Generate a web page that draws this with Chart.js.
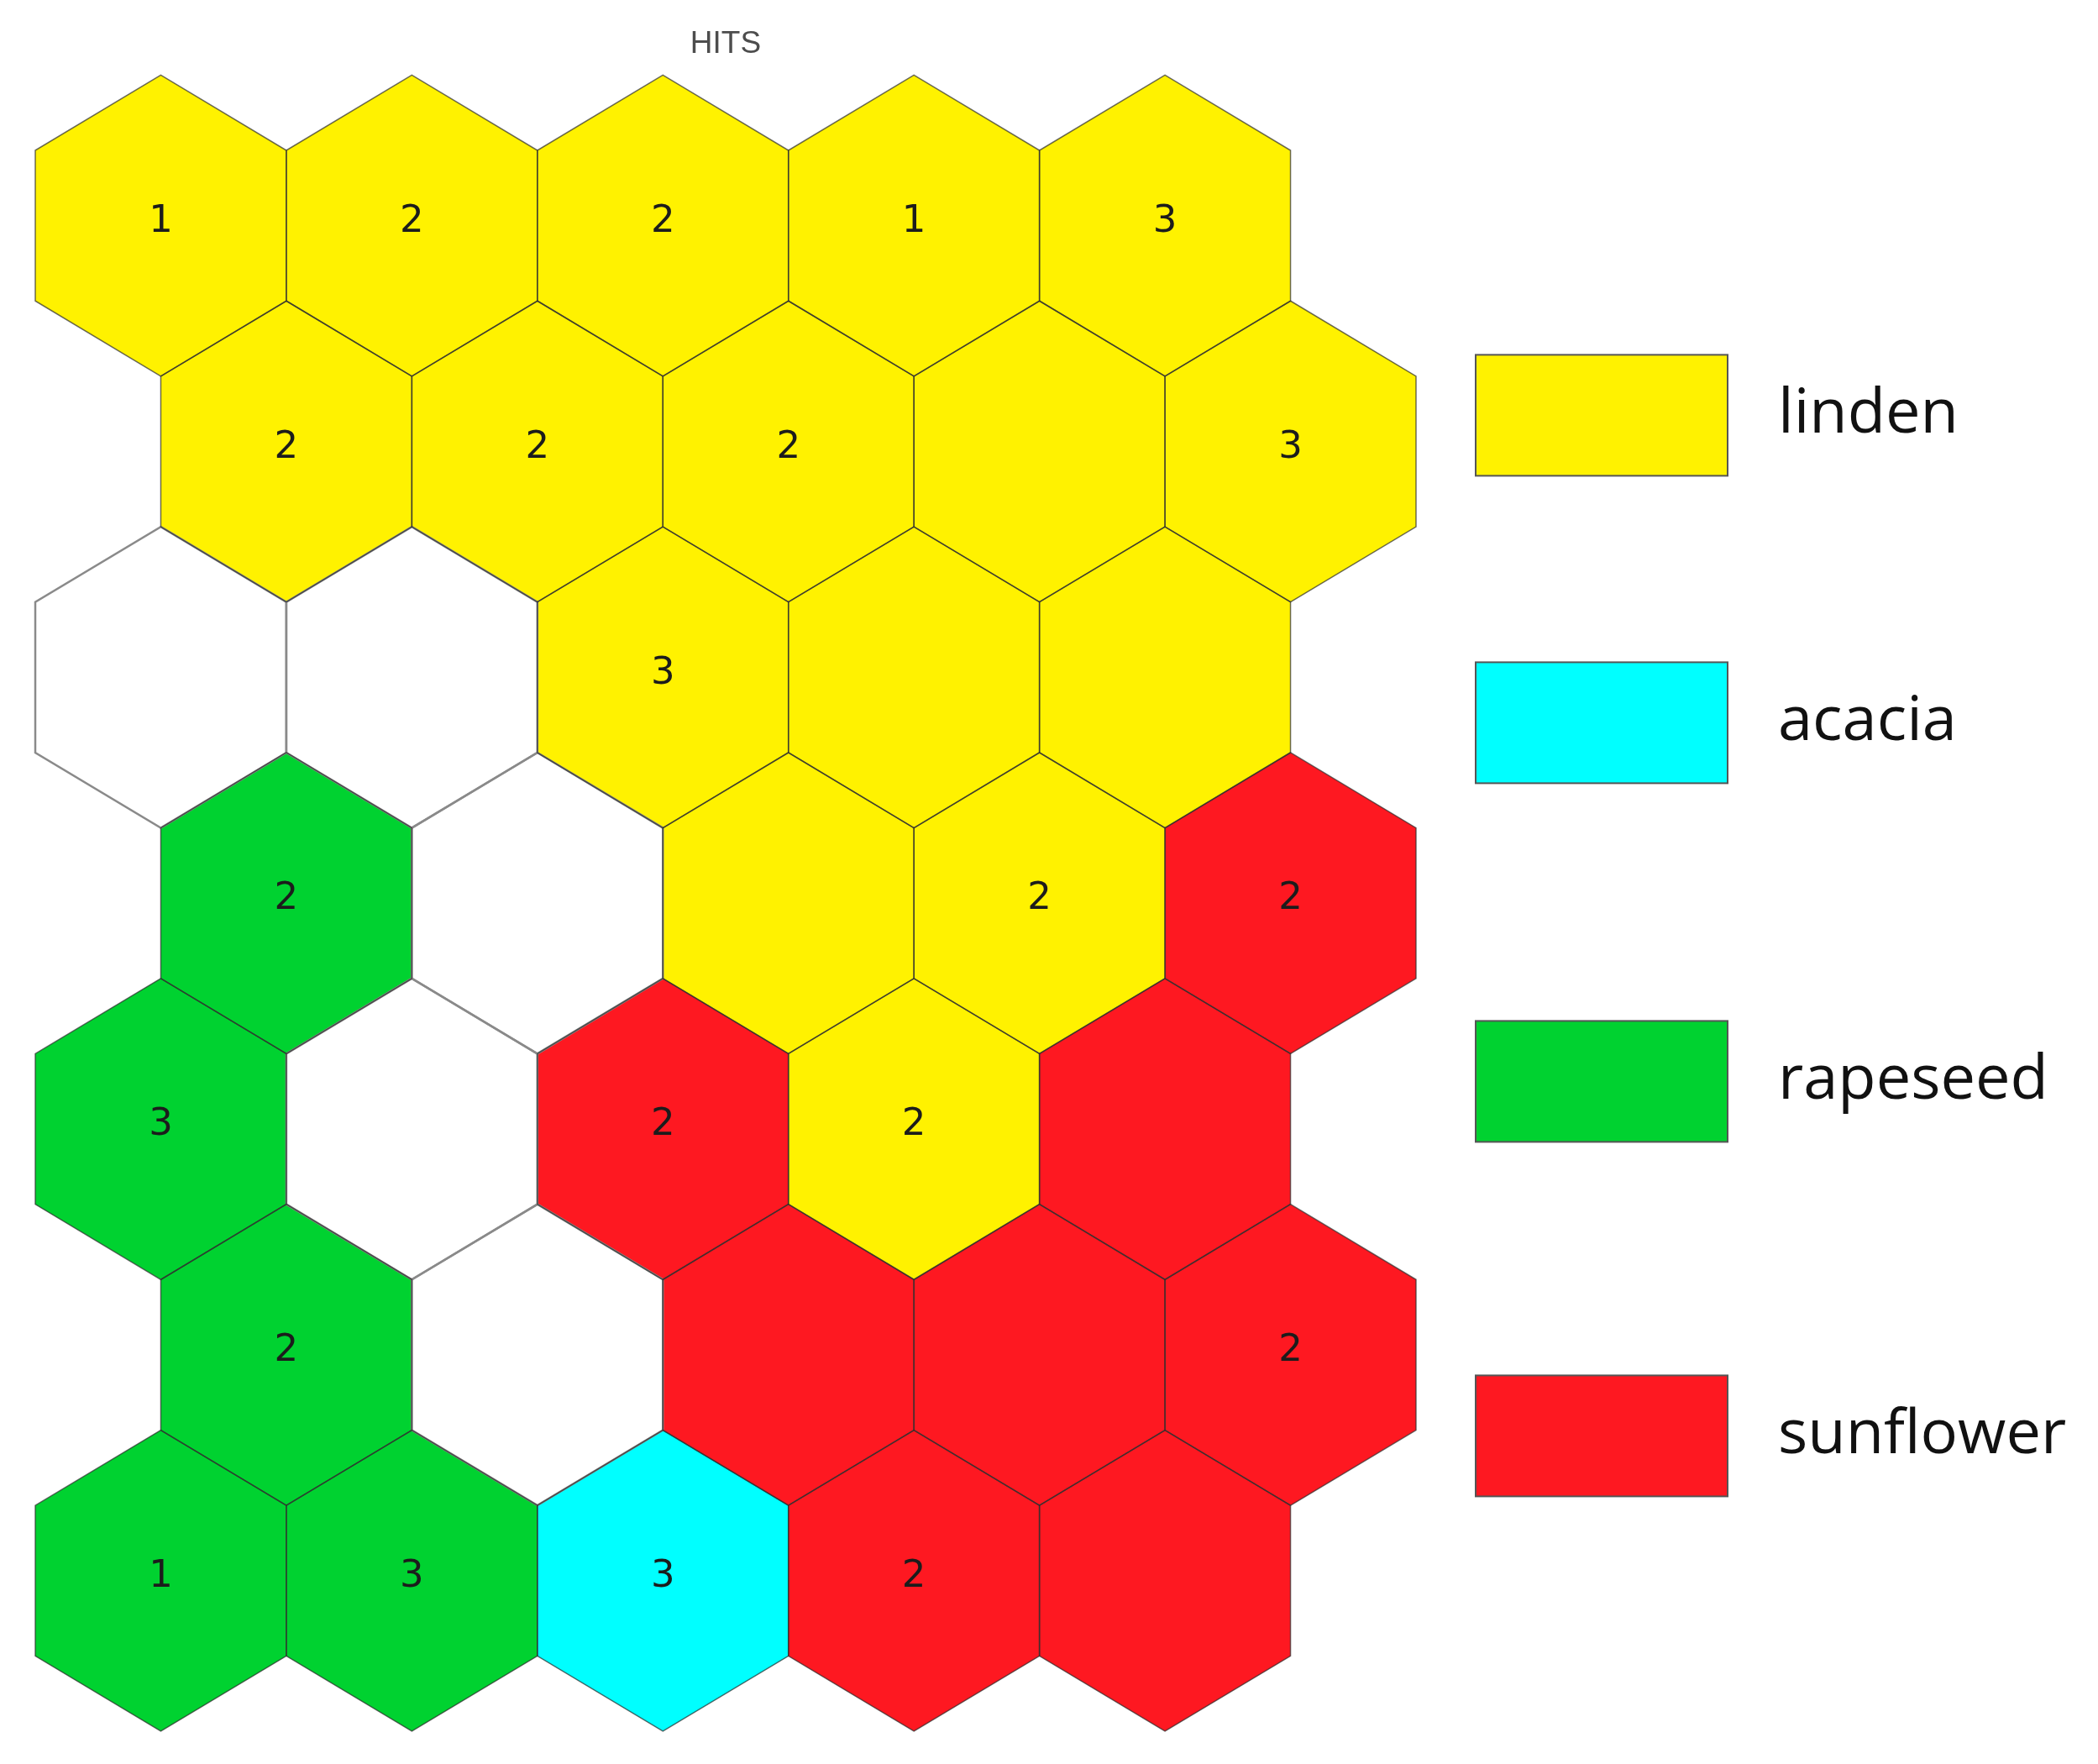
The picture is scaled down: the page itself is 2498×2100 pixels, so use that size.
<!DOCTYPE html>
<html>
<head>
<meta charset="utf-8">
<script src="https://cdn.jsdelivr.net/npm/chart.js@4.4.0/dist/chart.umd.min.js"></script>
<style>
  html, body { margin: 0; padding: 0; background: #ffffff; }
  #wrap { width: 2498px; height: 2100px; }
</style>
</head>
<body>
<div id="wrap"><canvas id="c" width="2498" height="2100"></canvas></div>
<script>
// ---------------- data ----------------
const titleText = 'HITS';
const categories = ['linden', 'acacia', 'rapeseed', 'sunflower'];
const categoryColors = ['#fff200', '#00ffff', '#00d230', '#fe1821'];
const emptyColor = '#ffffff';

// SOM grid 7 rows x 5 columns (row 0 = top), class of each neuron ('' = no hits)
const cellClass = [
  ['linden',   'linden',   'linden',    'linden',    'linden'],
  ['linden',   'linden',   'linden',    'linden',    'linden'],
  ['',         '',         'linden',    'linden',    'linden'],
  ['rapeseed', '',         'linden',    'linden',    'sunflower'],
  ['rapeseed', '',         'sunflower', 'linden',    'sunflower'],
  ['rapeseed', '',         'sunflower', 'sunflower', 'sunflower'],
  ['rapeseed', 'rapeseed', 'acacia',    'sunflower', 'sunflower']
];

// number of hits shown in each neuron (null = no number printed)
const hitCounts = [
  [1,    2,    2,    1,    3],
  [2,    2,    2,    null, 3],
  [null, null, 3,    null, null],
  [2,    null, null, 2,    2],
  [3,    null, 2,    2,    null],
  [2,    null, null, null, 2],
  [1,    3,    3,    2,    null]
];

// ---------------- build datasets ----------------
function cellsOf(cls) {
  const pts = [];
  cellClass.forEach((row, r) => row.forEach((c, col) => {
    if (c === cls) pts.push({ x: col + (r % 2 ? 0.5 : 0), y: r, hits: hitCounts[r][col] });
  }));
  return pts;
}

const datasets = [{ label: '', empty: true, backgroundColor: emptyColor, data: cellsOf('') }]
  .concat(categories.map((cat, k) => ({ label: cat, backgroundColor: categoryColors[k], data: cellsOf(cat) })));

// ---------------- plugins ----------------
const hexPlugin = {
  id: 'hexCells',
  beforeDatasetsDraw(chart) {
    const xs = chart.scales.x, ys = chart.scales.y, ctx = chart.ctx;
    const hw = Math.abs(xs.getPixelForValue(1) - xs.getPixelForValue(0)) / 2;
    const R = Math.abs(ys.getPixelForValue(1) - ys.getPixelForValue(0)) / 1.5;
    const path = (x, y) => {
      ctx.beginPath();
      ctx.moveTo(x, y - R);
      ctx.lineTo(x + hw, y - R / 2);
      ctx.lineTo(x + hw, y + R / 2);
      ctx.lineTo(x, y + R);
      ctx.lineTo(x - hw, y + R / 2);
      ctx.lineTo(x - hw, y - R / 2);
      ctx.closePath();
    };
    ctx.save();
    chart.data.datasets.forEach((ds, di) => {
      chart.getDatasetMeta(di).data.forEach(el => {
        path(el.x, el.y);
        ctx.fillStyle = ds.backgroundColor;
        ctx.fill();
      });
    });
    chart.data.datasets.forEach((ds, di) => {
      chart.getDatasetMeta(di).data.forEach(el => {
        path(el.x, el.y);
        ctx.lineJoin = 'miter';
        if (ds.empty) { ctx.strokeStyle = '#8a8a8a'; ctx.lineWidth = 2.5; }
        else { ctx.strokeStyle = 'rgba(45,45,45,0.7)'; ctx.lineWidth = 1.5; }
        ctx.stroke();
      });
    });
    ctx.fillStyle = '#1c1c1c';
    ctx.font = '45px "DejaVu Sans"';
    ctx.textAlign = 'center';
    ctx.textBaseline = 'middle';
    chart.data.datasets.forEach((ds, di) => {
      chart.getDatasetMeta(di).data.forEach((el, i) => {
        const h = ds.data[i].hits;
        if (h !== null && h !== undefined) ctx.fillText(String(h), el.x, el.y - R * 0.025);
      });
    });
    ctx.restore();
  }
};

const sideLegend = {
  id: 'sideLegend',
  afterDraw(chart, args, opts) {
    const area = chart.chartArea, ctx = chart.ctx;
    ctx.save();
    categories.forEach((cat, i) => {
      const cy = area.top + opts.offsets[i];
      const bx = area.right + opts.gap;
      ctx.fillStyle = categoryColors[i];
      ctx.fillRect(bx, cy - opts.boxH / 2, opts.boxW, opts.boxH);
      ctx.strokeStyle = '#555555';
      ctx.lineWidth = 2;
      ctx.strokeRect(bx, cy - opts.boxH / 2, opts.boxW, opts.boxH);
      ctx.fillStyle = '#111111';
      ctx.font = opts.fontSize + 'px "Open Sans"';
      ctx.textAlign = 'left';
      ctx.textBaseline = 'middle';
      ctx.fillText(cat, bx + opts.boxW + opts.textGap, cy);
    });
    ctx.restore();
  }
};

// ---------------- chart ----------------
new Chart(document.getElementById('c'), {
  type: 'scatter',
  data: { datasets },
  options: {
    responsive: false,
    animation: false,
    events: [],
    layout: { padding: { left: 42, right: 812, top: 0, bottom: 39 } },
    elements: { point: { radius: 0, hoverRadius: 0 } },
    scales: {
      x: { type: 'linear', min: -0.5, max: 5, display: false, grid: { display: false } },
      y: { type: 'linear', min: -2 / 3, max: 20 / 3, reverse: true, display: false, grid: { display: false } }
    },
    plugins: {
      legend: { display: false },
      tooltip: { enabled: false },
      title: {
        display: true,
        text: titleText,
        fullSize: false,
        color: '#4d4d4d',
        font: { family: '"Liberation Sans", Arial, sans-serif', size: 37, weight: 'normal' },
        padding: { top: 31, bottom: 14 }
      },
      sideLegend: { gap: 71, boxW: 300, boxH: 144, offsets: [405, 771, 1198, 1620], textGap: 60, fontSize: 74 }
    }
  },
  plugins: [hexPlugin, sideLegend]
});
</script>
</body>
</html>
